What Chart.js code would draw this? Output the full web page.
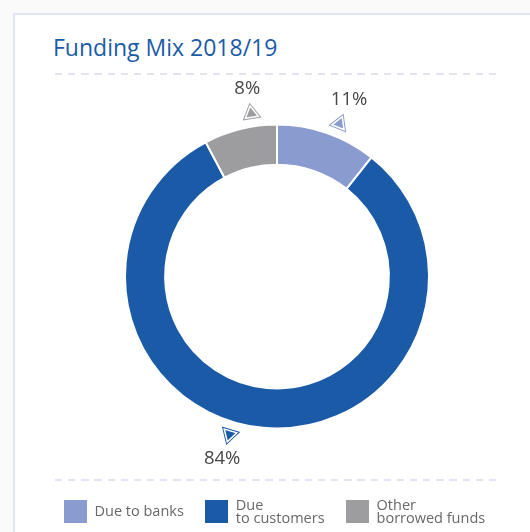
<!DOCTYPE html>
<html>
<head>
<meta charset="utf-8">
<title>Funding Mix 2018/19</title>
<script src="https://cdn.jsdelivr.net/npm/chart.js@4.4.1/dist/chart.umd.min.js"></script>
<style>
  html, body { margin: 0; padding: 0; width: 530px; height: 532px; overflow: hidden; background: #fafafb; font-family: "Open Sans", sans-serif; }
  .card { position: absolute; left: 13px; top: 13px; width: 540px; height: 540px; background: #fff;
          border-top: 2px solid #e1e5f2; border-left: 2px solid #e1e5f2; }
  .title { position: absolute; left: 53px; top: 35.5px; font-size: 23px; line-height: 23px; color: #1b5ba7; white-space: nowrap; }
  .rule { position: absolute; left: 55px; width: 442px; height: 2px;
          background: repeating-linear-gradient(to right, #e2e5f1 0 7.3px, transparent 7.3px 13.15px); }
  #chart { position: absolute; left: 0; top: 0; }
  .legend { position: absolute; left: 64px; top: 500px; height: 23px; display: flex; gap: 21.5px; }
  .item { display: flex; align-items: center; }
  .swatch { width: 23px; height: 23px; margin-right: 7.5px; flex: none; }
  .label { font-size: 14.5px; line-height: 12.4px; color: #686868; white-space: pre; }
</style>
</head>
<body>
<div class="card"></div>
<div class="title">Funding Mix 2018/19</div>
<div class="rule" style="top:73px"></div>
<div class="rule" style="top:479px"></div>
<canvas id="chart" width="530" height="532"></canvas>
<div class="legend" id="legend"></div>

<script>
// Funding sources and their shares (%)
const categories = ['Due to banks', 'Due to customers', 'Other borrowed funds'];
const legendLabels = ['Due to banks', 'Due\nto customers', 'Other\nborrowed funds'];
const shares = [11, 84, 8];
const colors = ['#8a9bcf', '#1a5aa7', '#9d9da0'];

// HTML legend
const legendEl = document.getElementById('legend');
legendLabels.forEach((text, i) => {
  const item = document.createElement('div');
  item.className = 'item';
  const sw = document.createElement('div');
  sw.className = 'swatch';
  sw.style.background = colors[i];
  const lb = document.createElement('div');
  lb.className = 'label';
  lb.textContent = text;
  item.appendChild(sw);
  item.appendChild(lb);
  legendEl.appendChild(item);
});

// Triangle markers with a double outline plus percentage labels outside each slice
const calloutPlugin = {
  id: 'callouts',
  afterDatasetsDraw(chart, args, opts) {
    const ctx = chart.ctx;
    const meta = chart.getDatasetMeta(0);
    const triangle = (r) => {
      ctx.beginPath();
      for (let k = 0; k < 3; k++) {
        const t = k * 2 * Math.PI / 3;
        const px = r * Math.cos(t), py = r * Math.sin(t);
        if (k === 0) ctx.moveTo(px, py); else ctx.lineTo(px, py);
      }
      ctx.closePath();
    };
    meta.data.forEach((arc, i) => {
      const p = arc.getProps(['x', 'y', 'startAngle', 'endAngle', 'outerRadius'], true);
      const a = (p.startAngle + p.endAngle) / 2 + (opts.nudge[i] || 0) * Math.PI / 180;
      const c = Math.cos(a), s = Math.sin(a);

      const tr = p.outerRadius + opts.markerGap;
      ctx.save();
      ctx.translate(p.x + c * tr, p.y + s * tr);
      ctx.rotate(a);
      triangle(opts.markerSize);
      ctx.fillStyle = colors[i];
      ctx.fill();
      triangle(opts.markerSize - 3.4);
      ctx.strokeStyle = '#ffffff';
      ctx.lineWidth = 1.5;
      ctx.lineJoin = 'miter';
      ctx.stroke();
      ctx.restore();

      const lr = p.outerRadius + opts.labelGap;
      ctx.save();
      ctx.font = '18.5px "Open Sans", sans-serif';
      ctx.fillStyle = '#474747';
      ctx.textAlign = 'center';
      ctx.textBaseline = 'middle';
      ctx.fillText(shares[i] + '%', p.x + c * lr, p.y + s * lr);
      ctx.restore();
    });
  }
};

function draw() {
  new Chart(document.getElementById('chart'), {
    type: 'doughnut',
    data: {
      labels: categories,
      datasets: [{
        data: shares,
        backgroundColor: colors,
        borderColor: '#ffffff',
        borderWidth: 2,
        hoverOffset: 0
      }]
    },
    options: {
      responsive: false,
      animation: false,
      cutout: '73.6%',
      layout: { padding: { left: 124, right: 100, top: 123.5, bottom: 102.5 } },
      events: [],
      plugins: {
        legend: { display: false },
        tooltip: { enabled: false },
        callouts: { nudge: [3, 11.5, 5], markerGap: 13, markerSize: 11, labelGap: 38.5 }
      }
    },
    plugins: [calloutPlugin]
  });
}

if (document.fonts && document.fonts.load) {
  document.fonts.load('18px "Open Sans"').then(draw, draw);
} else {
  draw();
}
</script>
</body>
</html>
